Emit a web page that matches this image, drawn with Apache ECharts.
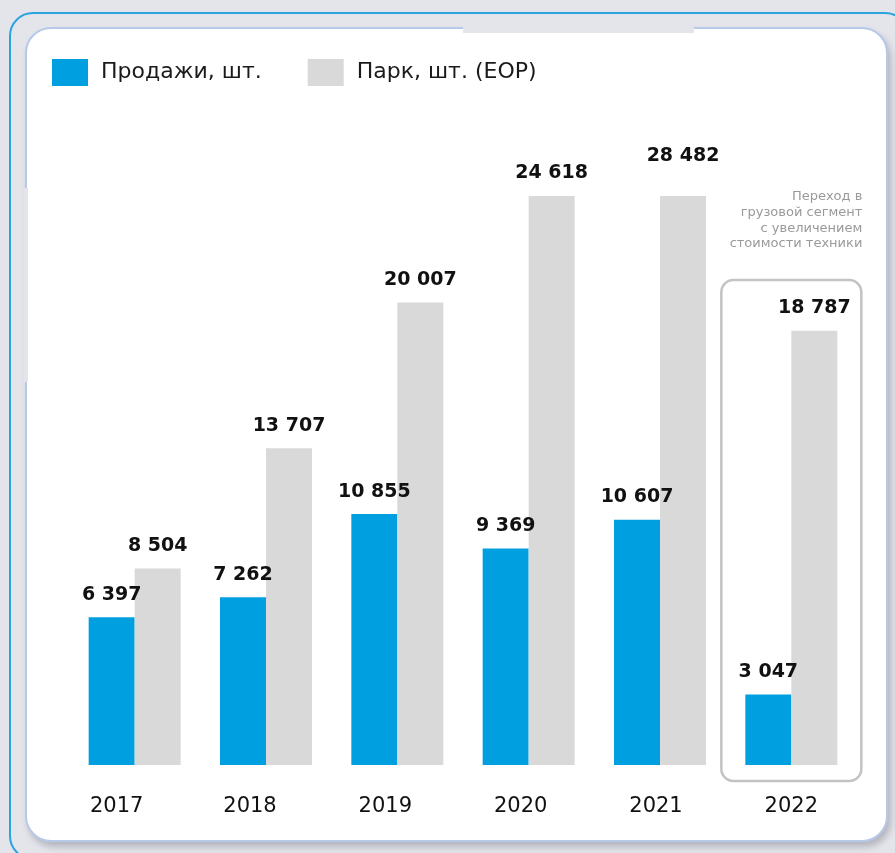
<!DOCTYPE html>
<html>
<head>
<meta charset="utf-8">
<script src="https://cdn.jsdelivr.net/npm/echarts@6/dist/echarts.min.js"></script>
<style>
  html, body { margin: 0; padding: 0; }
  body { width: 895px; height: 853px; background: #e4e5eb; overflow: hidden; position: relative; }
  .frame { position: absolute; left: 9px; top: 12px; width: 900px; height: 848px; border: 2px solid #2aa3df; border-radius: 24px; box-sizing: border-box; }
  .card { position: absolute; left: 25px; top: 27px; width: 863px; height: 815px; background: #fff; border: 2px solid #b7c9e8; border-radius: 26px; box-sizing: border-box; box-shadow: 3px 5px 6px rgba(60,60,80,0.28); }
  .notch-top { position: absolute; left: 463px; top: 26px; width: 231px; height: 7px; background: #e4e5eb; }
  .notch-left { position: absolute; left: 24px; top: 188px; width: 4px; height: 194px; background: #e4e5eb; }
  #chart { position: absolute; left: 0; top: 0; width: 895px; height: 853px; }
</style>
</head>
<body>
<div class="frame"></div>
<div class="card"></div>
<div class="notch-top"></div>
<div class="notch-left"></div>
<div id="chart"></div>
<script>
  // chart data
  const years = ["2017", "2018", "2019", "2020", "2021", "2022"];
  const sales = [6397, 7262, 10855, 9369, 10607, 3047];
  const park = [8504, 13707, 20007, 24618, 28482, 18787];
  const yMax = 24618; // bars taller than this are cut at the top
  const note = ["Переход в", "грузовой сегмент", "с увеличением", "стоимости техники"];

  const BLUE = "#009fe0";
  const GREY = "#d9d9d9";
  const FONT = "DejaVu Sans";

  const fmt = (v) => String(v).replace(/\B(?=(\d{3})+(?!\d))/g, " ");

  const chart = echarts.init(document.getElementById("chart"));

  // year labels drift left towards the first columns in the original
  const labelShift = [18, 16, 12, 8, 4, 0];
  const rich = {};
  labelShift.forEach((s, i) => {
    rich["y" + i] = { fontFamily: FONT, fontSize: 21, color: "#111", padding: [0, s * 2, 0, 0] };
  });

  const valueLabel = {
    show: true,
    position: "top",
    distance: 13,
    fontFamily: FONT,
    fontWeight: "bold",
    fontSize: 19,
    color: "#111",
  };

  chart.setOption({
    animation: false,
    legend: {
      left: 52,
      top: 59,
      padding: 0,
      itemWidth: 36,
      itemHeight: 27,
      itemGap: 46,
      icon: "rect",
      textStyle: { fontFamily: FONT, fontSize: 22, color: "#1a1a1a", padding: [2, 0, 0, 8] },
      data: ["Продажи, шт.", "Парк, шт. (EOP)"],
    },
    grid: { left: 69, right: 38, top: 196, bottom: 88 },
    xAxis: {
      type: "category",
      data: years,
      axisLine: { show: false },
      axisTick: { show: false },
      axisLabel: {
        margin: 31,
        formatter: (v, i) => `{y${i}|${v}}`,
        rich: rich,
      },
    },
    yAxis: { type: "value", min: 0, max: yMax, show: false, splitLine: { show: false } },
    series: [
      {
        name: "Продажи, шт.",
        type: "bar",
        barWidth: 46,
        barGap: "0%",
        itemStyle: { color: BLUE },
        label: { ...valueLabel, formatter: (p) => fmt(p.value) },
        data: sales,
      },
      {
        name: "Парк, шт. (EOP)",
        type: "bar",
        barWidth: 46,
        itemStyle: { color: GREY },
        label: { ...valueLabel, formatter: (p) => fmt(park[p.dataIndex]) },
        data: park.map((v) => ({
          value: Math.min(v, yMax),
          label: v > yMax ? { distance: 30 } : undefined,
        })),
      },
    ],
  });

  // highlight box around the last year plus its note
  const cx = chart.convertToPixel({ xAxisIndex: 0 }, years[years.length - 1]);
  chart.setOption({
    graphic: [
      {
        type: "rect",
        shape: { x: cx - 70, y: 280, width: 140, height: 501, r: 12 },
        style: { fill: "none", stroke: "#c3c3c3", lineWidth: 2.5 },
        z: 0,
      },
      {
        type: "text",
        x: cx + 71,
        y: 189,
        style: {
          text: note.join("\n"),
          fontFamily: FONT,
          fontSize: 13,
          lineHeight: 15.7,
          fill: "#9a9a9a",
          align: "right",
        },
      },
    ],
  });

  window.addEventListener("resize", () => chart.resize());
</script>
</body>
</html>
